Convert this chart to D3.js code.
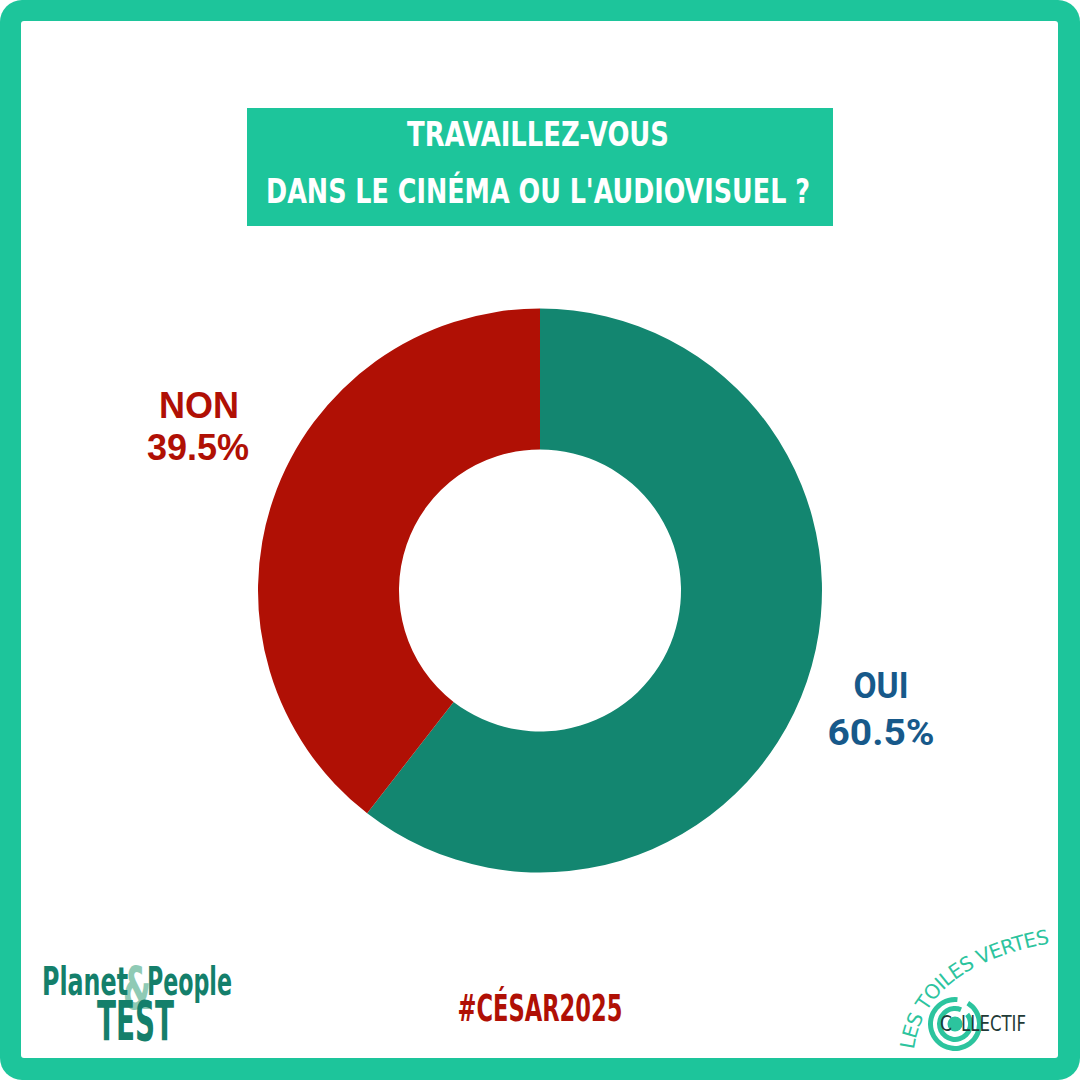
<!DOCTYPE html>
<html>
<head>
<meta charset="utf-8">
<script src="https://cdn.jsdelivr.net/npm/d3@7"></script>
<style>
  html, body { margin: 0; padding: 0; background: #ffffff; }
  svg { display: block; }
</style>
</head>
<body>
<svg id="chart" width="1080" height="1080"></svg>
<script>
// ---- Data ----
const titleLines = ["TRAVAILLEZ-VOUS", "DANS LE CINÉMA OU L'AUDIOVISUEL ?"];
const categories = ["OUI", "NON"];
const values = [60.5, 39.5];
const sliceColors = ["#138670", "#b01005"];
const labelColors = ["#17598a", "#b01005"];
const hashtag = "#CÉSAR2025";

const svg = d3.select("#chart");
const W = 1080, H = 1080;
const green = "#1dc59b";

// ---- Frame ----
svg.append("rect").attr("x", 0).attr("y", 0).attr("width", W).attr("height", H)
  .attr("rx", 22).attr("fill", green);
svg.append("rect").attr("x", 21).attr("y", 21).attr("width", 1037).attr("height", 1037)
  .attr("rx", 3).attr("fill", "#ffffff");

// ---- Title box ----
svg.append("rect").attr("x", 247).attr("y", 108).attr("width", 586).attr("height", 118)
  .attr("fill", green);
const titleWidths = [262, 544];
const titleBaselines = [146, 203];
titleLines.forEach((t, i) => {
  svg.append("text")
    .attr("x", 538).attr("y", titleBaselines[i])
    .attr("text-anchor", "middle")
    .attr("font-family", "'DejaVu Sans Condensed', 'DejaVu Sans', sans-serif")
    .attr("font-stretch", "condensed")
    .attr("font-weight", "bold")
    .attr("font-size", 33)
    .attr("fill", "#ffffff")
    .attr("textLength", titleWidths[i])
    .attr("lengthAdjust", "spacingAndGlyphs")
    .text(t);
});

// ---- Donut ----
const cx = 540, cy = 590.5;
const pie = d3.pie().sort(null).value(d => d.value).startAngle(0).endAngle(2 * Math.PI);
const data = categories.map((c, i) => ({ cat: c, value: values[i], color: sliceColors[i], label: labelColors[i] }));
const arcs = pie(data);
const arc = d3.arc().innerRadius(141).outerRadius(282);
const g = svg.append("g").attr("transform", `translate(${cx},${cy})`);
g.selectAll("path").data(arcs).join("path")
  .attr("d", arc)
  .attr("fill", d => d.data.color);

// ---- Labels ----
const fmt = v => d3.format(".1f")(v) + "%";
// OUI label (right)
svg.append("text").attr("x", 881).attr("y", 698)
  .attr("text-anchor", "middle")
  .attr("font-family", "Roboto, 'DejaVu Sans', sans-serif")
  .attr("font-weight", "bold").attr("font-size", 37)
  .attr("fill", data[0].label)
  .attr("textLength", 55).attr("lengthAdjust", "spacingAndGlyphs")
  .text(data[0].cat);
svg.append("text").attr("x", 881).attr("y", 745)
  .attr("text-anchor", "middle")
  .attr("font-family", "Roboto, 'DejaVu Sans', sans-serif")
  .attr("font-weight", "bold").attr("font-size", 37)
  .attr("fill", data[0].label)
  .attr("textLength", 107).attr("lengthAdjust", "spacingAndGlyphs")
  .text(fmt(data[0].value));
// NON label (left)
svg.append("text").attr("x", 199).attr("y", 418)
  .attr("text-anchor", "middle")
  .attr("font-family", "'Liberation Sans', Arial, sans-serif")
  .attr("font-weight", "bold").attr("font-size", 36)
  .attr("fill", data[1].label)
  .text(data[1].cat);
svg.append("text").attr("x", 198).attr("y", 460)
  .attr("text-anchor", "middle")
  .attr("font-family", "'Liberation Sans', Arial, sans-serif")
  .attr("font-weight", "bold").attr("font-size", 36)
  .attr("fill", data[1].label)
  .text(fmt(data[1].value));

// ---- Hashtag ----
svg.append("text").attr("x", 540).attr("y", 1021)
  .attr("text-anchor", "middle")
  .attr("font-family", "'DejaVu Sans Condensed', 'DejaVu Sans', sans-serif")
  .attr("font-stretch", "condensed")
  .attr("font-weight", "bold").attr("font-size", 38)
  .attr("fill", "#b01005")
  .attr("textLength", 165).attr("lengthAdjust", "spacingAndGlyphs")
  .text(hashtag);

// ---- Planet & People TEST logo ----
const logoDark = "#147f6b";
const condensed = "'DejaVu Sans Condensed', 'DejaVu Sans', sans-serif";
svg.append("text").attr("x", 137).attr("y", 1009)
  .attr("text-anchor", "middle")
  .attr("font-family", condensed).attr("font-weight", "bold")
  .attr("font-size", 58).attr("fill", "#8fcab5")
  .attr("textLength", 28).attr("lengthAdjust", "spacingAndGlyphs")
  .text("&");
svg.append("text").attr("x", 42).attr("y", 995)
  .attr("font-family", condensed).attr("font-weight", "bold")
  .attr("font-size", 39).attr("fill", logoDark)
  .attr("textLength", 86).attr("lengthAdjust", "spacingAndGlyphs")
  .text("Planet");
svg.append("text").attr("x", 147).attr("y", 995)
  .attr("font-family", condensed).attr("font-weight", "bold")
  .attr("font-size", 39).attr("fill", logoDark)
  .attr("textLength", 85).attr("lengthAdjust", "spacingAndGlyphs")
  .text("People");
svg.append("text").attr("x", 97).attr("y", 1040)
  .attr("font-family", condensed).attr("font-weight", "bold")
  .attr("font-size", 55).attr("fill", logoDark)
  .attr("textLength", 77).attr("lengthAdjust", "spacingAndGlyphs")
  .text("TEST");

// ---- Les Toiles Vertes logo ----
const tvGreen = "#2cc49e";
const defs = svg.append("defs");
defs.append("path").attr("id", "tvpath")
  .attr("d", "M 914 1050 Q 924 968 1046 944");
svg.append("text")
  .attr("font-family", "'DejaVu Sans', sans-serif")
  .attr("font-size", 20).attr("fill", tvGreen)
  .attr("letter-spacing", 2)
  .append("textPath").attr("href", "#tvpath")
  .attr("textLength", 188).attr("lengthAdjust", "spacing")
  .text("LES TOILES VERTES");

const sc = [955, 1024];
const sg = svg.append("g").attr("transform", `translate(${sc[0]},${sc[1]})`);
sg.append("path").attr("d", d3.arc().innerRadius(22).outerRadius(27)
  .startAngle(0.55).endAngle(2 * Math.PI + 0.1)()).attr("fill", tvGreen);
sg.append("path").attr("d", d3.arc().innerRadius(13).outerRadius(18)
  .startAngle(0.9).endAngle(2 * Math.PI + 0.4)()).attr("fill", tvGreen);
sg.append("circle").attr("r", 7.5).attr("fill", tvGreen);

svg.append("text").attr("x", 940).attr("y", 1031)
  .attr("font-family", condensed).attr("font-size", 22).attr("fill", "#1f3a36")
  .attr("textLength", 12).attr("lengthAdjust", "spacingAndGlyphs")
  .text("C");
svg.append("text").attr("x", 961).attr("y", 1031)
  .attr("font-family", condensed).attr("font-size", 22).attr("fill", "#1f3a36")
  .attr("textLength", 65).attr("lengthAdjust", "spacingAndGlyphs")
  .text("LLECTIF");
</script>
</body>
</html>
